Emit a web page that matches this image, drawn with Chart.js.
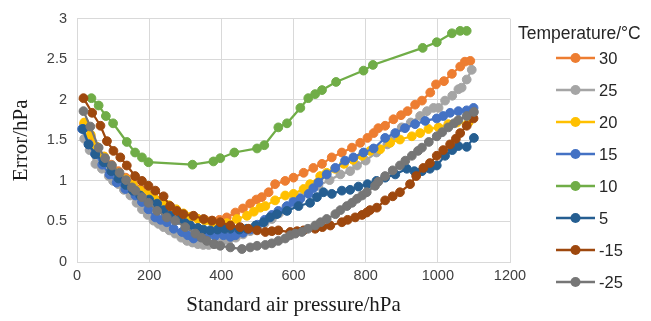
<!DOCTYPE html>
<html lang="en"><head>
<meta charset="UTF-8">
<title>Error vs standard air pressure</title>
<script src="https://cdn.jsdelivr.net/npm/chart.js"></script>
<style>
  body { margin: 0; background: #fff; font-family: 'Liberation Sans', Arial, sans-serif; }
  .wrap { position: relative; width: 651px; height: 321px; }
  canvas { position: absolute; left: 0; top: 0; }
  .legend { position: absolute; left: 518px; top: 22px; color: #262626; }
  .legend .title { font-size: 17.5px; line-height: 22px; white-space: nowrap; }
  .legend .row { position: absolute; left: 38px; height: 20px; display: flex; align-items: center; font-size: 16.5px; white-space: nowrap; }
  .legend svg { margin-right: 3px; }
</style>
</head>
<body>
<div class="wrap">
  <canvas id="chart" width="651" height="321"></canvas>
  <div class="legend" id="legend"><div class="title">Temperature/°C</div></div>
</div>
<script>
// temperature series, [pressure hPa, error hPa]
const names = ['30', '25', '20', '15', '10', '5', '-15', '-25'];
const colors = ['#ED7D31', '#A5A5A5', '#FFC000', '#4472C4', '#70AD47', '#255E91', '#9E480E', '#767676'];

const t30 = [[20,1.70],[38,1.55],[55,1.42],[75,1.30],[95,1.20],[115,1.12],[135,1.04],[155,0.97],[175,0.90],[195,0.84],
  [215,0.78],[235,0.72],[255,0.67],[275,0.62],[295,0.58],[315,0.55],[335,0.53],[355,0.52],[375,0.51],[395,0.52],
  [415,0.55],[439,0.61],[460,0.66],[480,0.72],[497,0.77],[512,0.80],[531,0.86],[549,0.96],[577,1.00],[600,1.04],
  [628,1.10],[655,1.16],[679,1.21],[706,1.29],[734,1.35],[762,1.41],[785,1.47],[805,1.53],[822,1.59],[835,1.65],
  [854,1.68],[877,1.76],[898,1.81],[916,1.86],[937,1.94],[956,1.99],[979,2.09],[995,2.19],[1017,2.23],[1039,2.32],
  [1062,2.41],[1075,2.47],[1090,2.48]];

const t25 = [[20,1.52],[35,1.38],[51,1.21],[69,1.15],[88,1.06],[100,1.00],[115,0.96],[130,0.89],[148,0.82],[165,0.73],
  [180,0.65],[196,0.58],[212,0.51],[226,0.47],[240,0.43],[256,0.39],[272,0.35],[289,0.30],[305,0.26],[320,0.24],
  [335,0.22],[350,0.21],[365,0.21],[380,0.22],[400,0.24],[420,0.27],[440,0.30],[460,0.34],[480,0.38],[500,0.43],
  [520,0.48],[540,0.53],[560,0.60],[580,0.68],[600,0.76],[620,0.80],[640,0.86],[669,0.94],[700,1.01],[730,1.08],
  [757,1.12],[776,1.19],[800,1.25],[830,1.35],[860,1.45],[880,1.55],[900,1.66],[925,1.72],[951,1.80],[970,1.86],
  [988,1.90],[1002,1.90],[1020,1.99],[1040,2.05],[1057,2.13],[1066,2.15],[1080,2.25],[1094,2.37]];

const t20 = [[20,1.72],[38,1.57],[55,1.42],[75,1.30],[95,1.18],[115,1.10],[135,1.02],[155,0.95],[175,0.88],[195,0.83],
  [215,0.78],[235,0.74],[255,0.70],[275,0.65],[295,0.60],[315,0.56],[335,0.53],[355,0.51],[375,0.49],[395,0.48],
  [415,0.48],[443,0.53],[471,0.57],[490,0.62],[508,0.67],[522,0.69],[549,0.76],[577,0.82],[600,0.84],[628,0.90],
  [646,0.96],[674,1.06],[692,1.10],[715,1.15],[740,1.21],[765,1.26],[790,1.31],[812,1.37],[840,1.39],[868,1.47],
  [895,1.51],[928,1.55],[951,1.59],[974,1.64],[1002,1.66],[1029,1.70],[1053,1.72],[1085,1.72]];

const t15 = [[14,1.64],[32,1.45],[50,1.33],[70,1.20],[90,1.08],[110,0.98],[134,0.90],[162,0.82],[180,0.74],[198,0.65],
  [217,0.55],[232,0.52],[249,0.49],[268,0.41],[291,0.37],[307,0.33],[323,0.29],[342,0.31],[360,0.33],[383,0.32],
  [406,0.33],[425,0.31],[439,0.33],[460,0.36],[480,0.40],[500,0.46],[520,0.52],[540,0.58],[558,0.63],[582,0.69],
  [600,0.74],[619,0.78],[642,0.84],[655,0.91],[669,0.98],[692,1.08],[716,1.16],[743,1.25],[766,1.29],[794,1.35],
  [822,1.40],[854,1.53],[882,1.59],[909,1.65],[937,1.70],[965,1.74],[997,1.77],[1015,1.80],[1034,1.84],[1057,1.86],
  [1080,1.87],[1099,1.90]];

const t10 = [[40,2.02],[60,1.93],[80,1.80],[100,1.71],[138,1.48],[161,1.35],[180,1.29],[198,1.23],[320,1.20],[378,1.24],
  [397,1.28],[436,1.35],[499,1.40],[519,1.44],[558,1.66],[582,1.71],[619,1.90],[641,2.02],[660,2.07],[679,2.12],
  [718,2.22],[794,2.36],[820,2.43],[958,2.64],[997,2.71],[1039,2.82],[1062,2.85],[1080,2.85]];

const t5 = [[17,1.64],[32,1.45],[51,1.33],[74,1.23],[95,1.12],[115,1.03],[135,0.95],[155,0.88],[175,0.82],[200,0.77],
  [222,0.72],[240,0.64],[258,0.57],[280,0.52],[300,0.48],[314,0.45],[335,0.42],[350,0.40],[369,0.39],[390,0.40],
  [410,0.41],[425,0.41],[450,0.40],[471,0.41],[495,0.45],[517,0.49],[535,0.55],[554,0.59],[582,0.63],[614,0.69],
  [646,0.73],[665,0.80],[683,0.86],[706,0.84],[734,0.88],[757,0.89],[780,0.93],[805,0.96],[830,1.00],[854,1.04],
  [882,1.08],[914,1.15],[935,1.12],[956,1.12],[978,1.15],[997,1.19],[1020,1.31],[1040,1.38],[1057,1.43],[1080,1.42],
  [1100,1.53]];

const tm15 = [[18,2.02],[42,1.84],[65,1.68],[83,1.49],[101,1.37],[120,1.29],[138,1.19],[161,1.06],[180,1.00],[198,0.94],
  [217,0.88],[240,0.81],[258,0.69],[277,0.63],[295,0.59],[323,0.57],[351,0.53],[374,0.51],[397,0.49],[425,0.45],
  [452,0.43],[475,0.41],[499,0.39],[522,0.37],[540,0.38],[558,0.39],[591,0.37],[610,0.38],[628,0.39],[660,0.41],
  [680,0.43],[702,0.45],[734,0.49],[750,0.52],[771,0.55],[790,0.58],[803,0.61],[812,0.64],[831,0.67],[854,0.76],
  [875,0.81],[895,0.86],[923,0.96],[940,1.06],[960,1.16],[978,1.22],[997,1.31],[1015,1.38],[1034,1.45],[1050,1.52],
  [1062,1.59],[1080,1.68],[1099,1.77]];

const tm25 = [[18,1.86],[37,1.67],[60,1.41],[78,1.28],[97,1.19],[118,1.10],[136,1.01],[152,0.92],[162,0.88],[180,0.80],
  [198,0.73],[222,0.63],[249,0.55],[272,0.51],[300,0.43],[328,0.35],[345,0.30],[360,0.26],[380,0.22],[397,0.20],
  [425,0.18],[457,0.16],[480,0.18],[499,0.20],[522,0.21],[540,0.23],[558,0.26],[577,0.29],[591,0.33],[605,0.35],
  [623,0.37],[640,0.41],[660,0.45],[675,0.49],[692,0.53],[716,0.59],[730,0.64],[748,0.69],[762,0.73],[776,0.78],
  [790,0.82],[803,0.86],[826,0.94],[835,0.99],[854,1.06],[875,1.13],[895,1.19],[910,1.25],[928,1.31],[945,1.37],
  [956,1.41],[975,1.48],[997,1.55],[1012,1.60],[1029,1.66],[1045,1.71],[1057,1.75],[1080,1.80],[1100,1.85]];

const seriesData = [t30, t25, t20, t15, t10, t5, tm15, tm25];

const xTicks = [0, 200, 400, 600, 800, 1000, 1200];
const yTicks = [0, 0.5, 1, 1.5, 2, 2.5, 3];

const tickColor = '#404040';
const gridColor = '#d9d9d9';
const serif = "'Liberation Serif', 'Times New Roman', serif";
const sans = "'Liberation Sans', Arial, sans-serif";

// excel draws later series on top
const datasets = seriesData.map((pts, i) => ({
  label: names[i],
  data: pts.map(p => ({ x: p[0], y: p[1] })),
  borderColor: colors[i],
  backgroundColor: colors[i],
  pointBackgroundColor: colors[i],
  pointBorderColor: colors[i],
  pointBorderWidth: 1,
  pointRadius: 4.4,
  borderWidth: 2.25,
  tension: 0,
  order: seriesData.length - i
}));

new Chart(document.getElementById('chart'), {
  type: 'line',
  data: { datasets },
  options: {
    responsive: false,
    animation: false,
    layout: { padding: { top: 17, right: 141, bottom: 0, left: 0 } },
    plugins: { legend: { display: false }, tooltip: { enabled: false } },
    scales: {
      x: {
        type: 'linear',
        min: xTicks[0],
        max: xTicks[xTicks.length - 1],
        afterBuildTicks: s => { s.ticks = xTicks.map(v => ({ value: v })); },
        afterFit: s => { s.height = 59; },
        ticks: { color: tickColor, font: { family: sans, size: 14.5 }, padding: 5, callback: v => String(v) },
        grid: { color: gridColor, drawTicks: false },
        border: { color: gridColor },
        title: { display: true, text: 'Standard air pressure/hPa', color: '#1a1a1a', font: { family: serif, size: 21 }, padding: { top: 0, bottom: 3 } }
      },
      y: {
        min: yTicks[0],
        max: yTicks[yTicks.length - 1],
        afterBuildTicks: s => { s.ticks = yTicks.map(v => ({ value: v })); },
        afterFit: s => { s.width = 77; },
        ticks: { color: tickColor, font: { family: sans, size: 14.5 }, padding: 10, callback: v => String(v) },
        grid: { color: gridColor, drawTicks: false },
        border: { color: gridColor },
        title: { display: true, text: 'Error/hPa', color: '#1a1a1a', font: { family: serif, size: 21 }, padding: { top: 9, bottom: 0 } }
      }
    }
  }
});

// legend: line with marker, then label
const legend = document.getElementById('legend');
names.forEach((name, i) => {
  const row = document.createElement('div');
  row.className = 'row';
  row.style.top = (26 + 32 * i) + 'px';
  row.innerHTML = '<svg width="40" height="12"><line x1="0" y1="6" x2="39" y2="6" stroke="' + colors[i] +
    '" stroke-width="2.5"/><circle cx="19.5" cy="6" r="5" fill="' + colors[i] + '"/></svg><span>' + name + '</span>';
  legend.appendChild(row);
});
</script>
</body></html>
